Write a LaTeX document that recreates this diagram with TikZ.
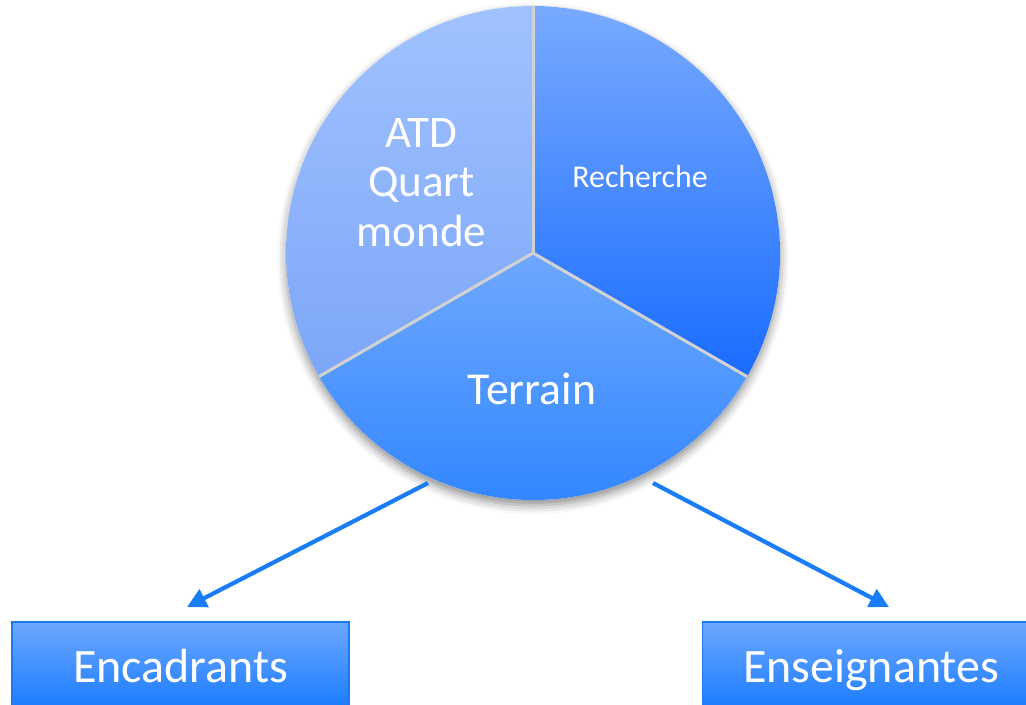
\documentclass[tikz,border=0pt]{standalone}
\usepackage{fontspec}
\setmainfont{Carlito}
\usetikzlibrary{positioning}
\usetikzlibrary{arrows.meta,shadows.blur}
\usetikzlibrary{calc}
\definecolor{atdtop}{HTML}{A0C2FF}
\definecolor{atdbot}{HTML}{7CA6F7}
\definecolor{rectop}{HTML}{78AAFF}
\definecolor{recbot}{HTML}{1A6CFF}
\definecolor{tertop}{HTML}{6EA8FF}
\definecolor{terbot}{HTML}{2A82FF}
\definecolor{boxtop}{HTML}{6DA7FF}
\definecolor{boxbot}{HTML}{1A7CFF}
\definecolor{boxline}{HTML}{1E78EE}
\definecolor{linkblue}{HTML}{187DF7}
\definecolor{sepgray}{HTML}{D2D2D2}
\tikzstyle{pielabel}=[text=white, inner sep=0pt]
\tikzstyle{groupbox}=[rectangle, draw=boxline, line width=0.8pt, top color=boxtop, bottom color=boxbot, text=white, minimum width=6.74cm, minimum height=1.74cm, text height=19pt, text depth=0pt, font=\fontsize{27.3}{32}\selectfont]
\tikzstyle{link}=[-{Triangle[length=11pt,width=11pt]}, line width=2.4pt, linkblue]

\begin{document}
\begin{tikzpicture}[x=0.02cm, y=0.02cm]
  \useasboundingbox (0,0) rectangle (1026,-705);
  \clip (0,0) rectangle (1026,-705);

  \coordinate (c) at (533,-253);
  % soft shadow under the pie
  \fill[white, blur shadow={shadow xshift=0pt, shadow yshift=-3pt, shadow blur radius=5pt, shadow opacity=45}] (c) circle[radius=247];

  \foreach \from/\to/\tc/\bc in {90/210/atdtop/atdbot, -30/90/rectop/recbot, 210/330/tertop/terbot}
    \shade[top color=\tc, bottom color=\bc] (c) -- ++(\from:247) arc[start angle=\from, end angle=\to, radius=247] -- cycle;

  \foreach \a in {90,210,330}
    \draw[sepgray, line width=0.06cm] (c) -- ++(\a:247);

  \node[pielabel, align=center, font=\fontsize{25.7}{28}\selectfont] (atd) at (421.5,-182.5) {ATD\\Quart\\monde};
  \node[pielabel, anchor=base, font=\fontsize{18.1}{21}\selectfont] (recherche) at (640,-188) {Recherche};
  \node[pielabel, anchor=base, font=\fontsize{26}{30}\selectfont] (terrain) at (532,-404) {Terrain};

  \node[groupbox] (encadrants) at (180.5,-665.5) {Encadrants};
  \node[groupbox] (enseignantes) at (871,-665.5) {Enseignantes};

  \coordinate (outL) at (428,-483);
  \coordinate (tipL) at (187,-607);
  \coordinate (outR) at (653,-483);
  \coordinate (tipR) at (889,-607);

  \draw[link] (outL) -- (tipL);
  \draw[link] (outR) -- (tipR);

\end{tikzpicture}
\end{document}
